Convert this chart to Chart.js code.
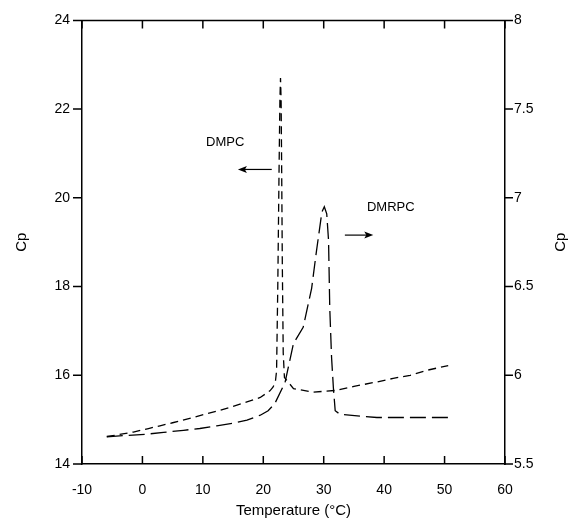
<!DOCTYPE html>
<html>
<head>
<meta charset="utf-8">
<script src="https://cdn.jsdelivr.net/npm/chart.js@4.4.0/dist/chart.umd.min.js"></script>
<style>
  html, body { margin: 0; padding: 0; background: #fff; }
  #wrap { width: 574px; height: 525px; }
</style>
</head>
<body>
<div id="wrap"><canvas id="cp"></canvas></div>
<script>
// DMPC, read against the left axis
var dmpcTemp = [-5.9, -4, -1.5, 1, 2.9, 5, 8.4, 10.5, 12.8, 15, 17.3, 19.5, 21.1, 21.6, 22.0, 22.2, 22.4, 22.6, 22.75, 22.85, 22.95, 23.05, 23.15, 23.3, 23.5, 25, 28.2, 32.1, 35, 38.8, 41.5, 44.3, 47, 50.6];
var dmpcCp = [14.62, 14.66, 14.72, 14.8, 14.86, 14.93, 15.05, 15.13, 15.21, 15.3, 15.4, 15.5, 15.65, 15.73, 15.85, 16.1, 18.0, 20.5, 22.2, 22.7, 22.2, 20.5, 18.5, 16.5, 15.95, 15.7, 15.62, 15.66, 15.75, 15.85, 15.93, 16.0, 16.11, 16.22];

// DMRPC, read against the right axis
var dmrpcTemp = [-5.9, -3, 0.7, 3.5, 6.8, 9.5, 12.3, 15, 17.3, 19.5, 20.8, 21.9, 23.6, 25, 26.6, 28, 28.8, 29.7, 30.1, 30.5, 30.8, 31.0, 31.3, 31.6, 31.9, 32.7, 36, 38.8, 44.3, 50.6];
var dmrpcCp = [5.653, 5.66, 5.668, 5.678, 5.69, 5.7, 5.715, 5.73, 5.747, 5.775, 5.8, 5.84, 5.96, 6.18, 6.27, 6.49, 6.7, 6.92, 6.95, 6.91, 6.76, 6.38, 6.1, 5.93, 5.8, 5.78, 5.77, 5.762, 5.762, 5.762];

var xTicks = [-10, 0, 10, 20, 30, 40, 50, 60];
var leftTicks = [14, 16, 18, 20, 22, 24];
var rightTicks = [5.5, 6, 6.5, 7, 7.5, 8];

function toPoints(xs, ys) {
  return xs.map(function (x, i) { return { x: x, y: ys[i] }; });
}

var FONT = "'Liberation Sans', Arial, sans-serif";

// ticks (x inward, y outward), top frame, titles and the two labels with arrows
var extras = {
  id: "extras",
  afterDraw: function (chart) {
    var c = chart.ctx, a = chart.chartArea;
    var x = chart.scales.x, yl = chart.scales.y, yr = chart.scales.y2;
    c.save();
    c.strokeStyle = "#000";
    c.lineWidth = 1.5;
    c.beginPath();
    c.moveTo(a.left, a.top); c.lineTo(a.right, a.top);
    xTicks.forEach(function (t) {
      var px = x.getPixelForValue(t);
      c.moveTo(px, a.bottom); c.lineTo(px, a.bottom - 8);
      c.moveTo(px, a.top); c.lineTo(px, a.top + 8);
    });
    leftTicks.forEach(function (t) {
      var py = yl.getPixelForValue(t);
      c.moveTo(a.left, py); c.lineTo(a.left - 9, py);
    });
    rightTicks.forEach(function (t) {
      var py = yr.getPixelForValue(t);
      c.moveTo(a.right, py); c.lineTo(a.right + 8, py);
    });
    c.stroke();

    c.fillStyle = "#000";
    c.font = "15px " + FONT;
    c.textAlign = "center";
    c.textBaseline = "middle";
    c.fillText("Temperature (\u00B0C)", (a.left + a.right) / 2, 511);
    [[22, "Cp"], [561, "Cp"]].forEach(function (p) {
      c.save();
      c.translate(p[0], (a.top + a.bottom) / 2);
      c.rotate(-Math.PI / 2);
      c.fillText(p[1], 0, 0);
      c.restore();
    });

    c.font = "13px " + FONT;
    c.fillText("DMPC", x.getPixelForValue(13.7), yl.getPixelForValue(21.26));
    c.fillText("DMRPC", x.getPixelForValue(41.1), yl.getPixelForValue(19.78));

    function arrow(x1, x2, yv) {
      var p1 = x.getPixelForValue(x1), p2 = x.getPixelForValue(x2), py = yl.getPixelForValue(yv);
      var d = p2 > p1 ? 1 : -1;
      c.lineWidth = 1.2;
      c.beginPath();
      c.moveTo(p1, py); c.lineTo(p2 - d * 4, py);
      c.stroke();
      c.beginPath();
      c.moveTo(p2, py);
      c.lineTo(p2 - d * 9, py - 3.5);
      c.lineTo(p2 - d * 7, py);
      c.lineTo(p2 - d * 9, py + 3.5);
      c.closePath();
      c.fill();
    }
    arrow(21.4, 15.8, 20.64);
    arrow(33.5, 38.2, 19.16);
    c.restore();
  }
};

var ctx = document.getElementById("cp").getContext("2d");
var cpChart = new Chart(ctx, {
  type: "scatter",
  data: {
    datasets: [
      {
        label: "DMPC",
        data: toPoints(dmpcTemp, dmpcCp),
        yAxisID: "y",
        showLine: true,
        borderColor: "#000",
        borderWidth: 1.3,
        borderDash: [8, 5],
        pointRadius: 0,
        tension: 0
      },
      {
        label: "DMRPC",
        data: toPoints(dmrpcTemp, dmrpcCp),
        yAxisID: "y2",
        showLine: true,
        borderColor: "#000",
        borderWidth: 1.3,
        borderDash: [16, 6],
        pointRadius: 0,
        tension: 0
      }
    ]
  },
  options: {
    responsive: true,
    maintainAspectRatio: false,
    animation: false,
    layout: { padding: { top: 18, left: 0, right: 0, bottom: 0 } },
    plugins: { legend: { display: false }, tooltip: { enabled: false } },
    scales: {
      x: {
        type: "linear", min: -10, max: 60,
        afterBuildTicks: function (s) { s.ticks = xTicks.map(function (v) { return { value: v }; }); },
        afterFit: function (s) { s.height = 61; },
        grid: { display: false, drawTicks: false },
        border: { display: true, color: "#000", width: 1.5 },
        ticks: { color: "#000", font: { family: FONT, size: 14 }, padding: 18, maxRotation: 0 }
      },
      y: {
        position: "left", min: 14, max: 24,
        afterBuildTicks: function (s) { s.ticks = leftTicks.map(function (v) { return { value: v }; }); },
        afterFit: function (s) { s.width = 82; },
        grid: { display: false, drawTicks: false },
        border: { display: true, color: "#000", width: 1.5 },
        ticks: { color: "#000", font: { family: FONT, size: 14 }, padding: 12 }
      },
      y2: {
        position: "right", min: 5.5, max: 8,
        afterBuildTicks: function (s) { s.ticks = rightTicks.map(function (v) { return { value: v }; }); },
        afterFit: function (s) { s.width = 69; },
        grid: { display: false, drawTicks: false },
        border: { display: true, color: "#000", width: 1.5 },
        ticks: {
          color: "#000", font: { family: FONT, size: 14 }, padding: 9,
          callback: function (v) { return String(v); }
        }
      }
    }
  },
  plugins: [extras]
});
</script>
</body>
</html>
